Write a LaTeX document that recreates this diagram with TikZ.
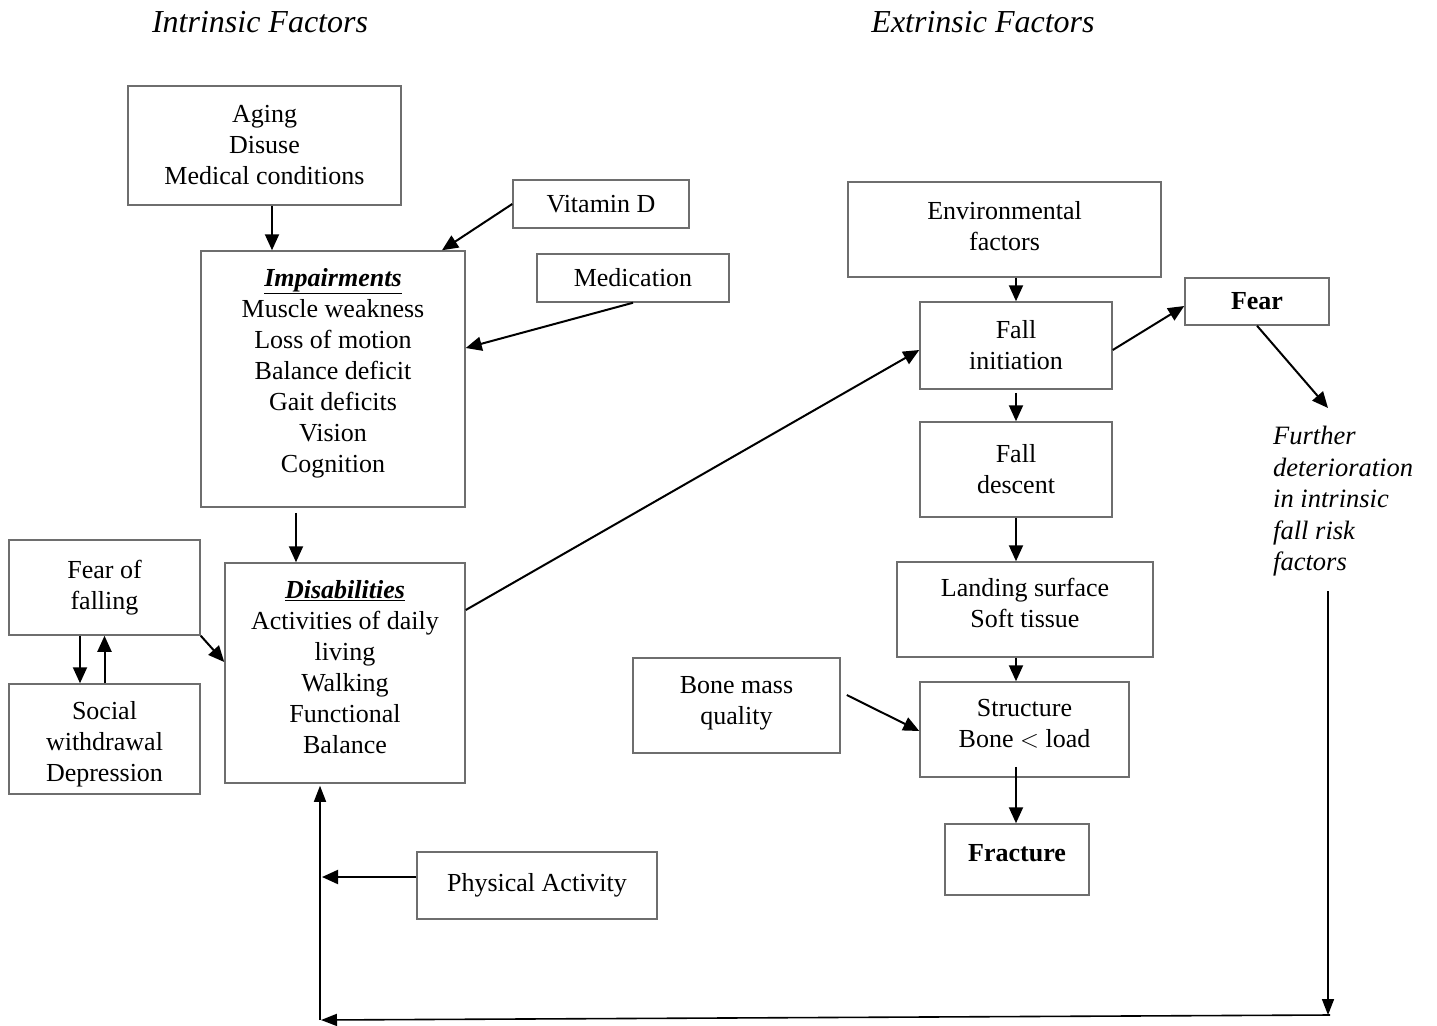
\documentclass[tikz,border=0pt]{standalone}
\usepackage{fontspec}
\setmainfont{Liberation Serif}
\usetikzlibrary{arrows.meta}
\definecolor{boxgray}{HTML}{6E6E6E}
\newcommand{\lowpad}[1]{\rule[-#1]{0pt}{#1}}
\newcommand{\toppad}[1]{\rule{0pt}{#1}}
\tikzset{
  box/.style={draw=boxgray, line width=1.5pt, rectangle, align=center, inner sep=2pt, font=\fontsize{26}{31}\selectfont},
  arr/.style={draw=black, line width=2pt, -{Triangle[length=16pt,width=14pt]}},
  thinarr/.style={draw=black, line width=1.6pt, -{Triangle[length=16pt,width=12pt]}},
  title/.style={font=\fontsize{32}{38}\selectfont\itshape},
  note/.style={font=\fontsize{26.5}{31.5}\selectfont\itshape, align=left, inner sep=0pt, anchor=north west},
}
\begin{document}
\begin{tikzpicture}[x=1pt,y=-1pt]
\useasboundingbox[fill=white] (0,0) rectangle (1437,1025);
% titles
\node[title] (tin) at (260,22) {Intrinsic Factors};
\node[title] (tex) at (983,22) {Extrinsic Factors};
% intrinsic boxes
\node[box, minimum width=273pt, minimum height=119pt] (aging) at (264.5,145.5) {Aging\\Disuse\\Medical conditions};
\node[box, minimum width=176pt, minimum height=48pt] (vitd) at (601,204) {Vitamin D};
\node[box, minimum width=264pt, minimum height=256pt] (imp) at (333,379) {\underline{\textbf{\textit{Impairments}}}\\Muscle weakness\\Loss of motion\\Balance deficit\\Gait deficits\\Vision\\Cognition\lowpad{18pt}};
\node[box, minimum width=192pt, minimum height=48pt] (med) at (633,278) {Medication};
\node[box, minimum width=240pt, minimum height=220pt] (dis) at (345,673) {\underline{\textbf{\textit{Disabilities}}}\\Activities of daily\\living\\Walking\\Functional\\Balance\lowpad{12pt}};
\node[box, minimum width=191pt, minimum height=95pt] (fof) at (104.5,587.5) {Fear of\\falling};
\node[box, minimum width=191pt, minimum height=110pt] (soc) at (104.5,739) {\toppad{28pt}Social\\withdrawal\\Depression};
\node[box, minimum width=240pt, minimum height=67pt] (phys) at (537,885.5) {Physical Activity};
% extrinsic boxes
\node[box, minimum width=313pt, minimum height=95pt] (env) at (1004.5,229.5) {Environmental\\factors\lowpad{8pt}};
\node[box, minimum width=192pt, minimum height=87pt] (fi) at (1016,345.5) {Fall\\initiation};
\node[box, minimum width=144pt, minimum height=47pt, font=\fontsize{26}{31}\selectfont\bfseries] (fear) at (1257,301.5) {Fear};
\node[box, minimum width=192pt, minimum height=95pt] (fd) at (1016,469.5) {Fall\\descent};
\node[box, minimum width=256pt, minimum height=95pt] (land) at (1025,609.5) {Landing surface\\Soft tissue\lowpad{14pt}};
\node[box, minimum width=207pt, minimum height=95pt] (bone) at (736.5,705.5) {Bone mass\\quality\lowpad{10pt}};
\node[box, minimum width=209pt, minimum height=95pt] (struct) at (1024.5,729.5) {Structure\\Bone $<$ load\lowpad{12pt}};
\node[box, minimum width=144pt, minimum height=71pt, font=\fontsize{26}{31}\selectfont\bfseries] (frac) at (1017,859.5) {Fracture\lowpad{14pt}};
\node[note] (further) at (1273,426) {Further\\deterioration\\in intrinsic\\fall risk\\factors};
% free ends
\coordinate (c1) at (1328,1015);
\coordinate (c2) at (321,1020);
\coordinate (c3) at (322,877);
% connectors
\draw[arr] ([xshift=7.5pt]aging.south) -- ([xshift=-61pt]imp.north);
\draw[arr] (vitd.west) -- ([xshift=109pt]imp.north);
\draw[arr] (med.south) -- ([yshift=31pt]imp.east);
\draw[arr] ([xshift=-37pt,yshift=-5pt]imp.south) -- ([xshift=-49pt]dis.north);
\draw[arr] (fof.south east) -- ([yshift=11pt]dis.west);
\draw[arr] ([xshift=-24.5pt]fof.south) -- ([xshift=-24.5pt]soc.north);
\draw[arr] (soc.north) -- (fof.south);
\draw[arr] ([yshift=63pt]dis.east) -- ([yshift=-4.5pt]fi.west);
\draw[arr] ([xshift=11.5pt]env.south) -- (fi.north);
\draw[arr] ([yshift=-3pt]fi.south) -- (fd.north);
\draw[arr] ([yshift=-4.5pt]fi.east) -- ([yshift=-4.5pt]fear.west);
\draw[arr] (fear.south) -- ([xshift=55pt,yshift=18pt]further.north west);
\draw[arr] (fd.south) -- ([xshift=-9pt]land.north);
\draw[arr] ([xshift=-9pt]land.south) -- ([xshift=-8.5pt]struct.north);
\draw[arr] ([xshift=6pt,yshift=10.5pt]bone.east) -- ([yshift=-1.5pt]struct.west);
\draw[arr] ([xshift=-8.5pt,yshift=11pt]struct.south) -- ([xshift=-1pt]frac.north);
\draw[thinarr] ([xshift=55pt,yshift=-15pt]further.south west) -- (c1);
\draw[thinarr] ([xshift=2pt]c1) -- (c2);
\draw[thinarr] ([xshift=-1pt]c2) -- ([xshift=-25pt,yshift=-2pt]dis.south);
\draw[arr] ([yshift=8.5pt]phys.west) -- (c3);
\end{tikzpicture}
\end{document}
